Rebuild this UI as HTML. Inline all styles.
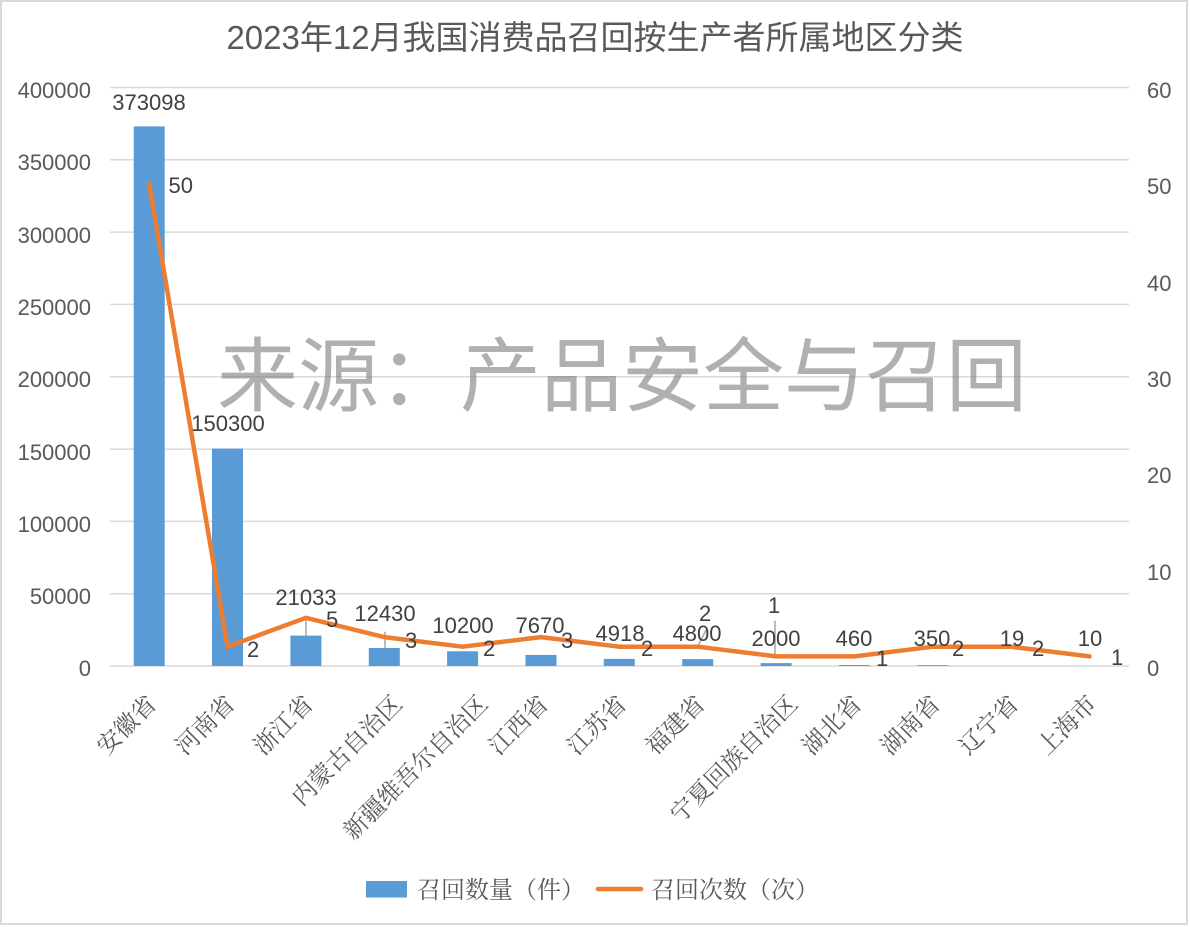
<!DOCTYPE html>
<html>
<head>
<meta charset="utf-8">
<style>
html,body{margin:0;padding:0;background:#fff;}
svg{display:block;}
.ax{font-family:"Liberation Sans","Noto Sans CJK SC",sans-serif;font-size:22px;fill:#595959;}
.dl{font-family:"Liberation Sans","Noto Sans CJK SC",sans-serif;font-size:22px;fill:#404040;}
.cat{font-family:"Liberation Serif","Noto Serif CJK SC",serif;font-size:24px;fill:#595959;}
.lg{font-family:"Liberation Serif","Noto Serif CJK SC",serif;font-size:24px;fill:#595959;}
</style>
</head>
<body>
<svg width="1190" height="927" viewBox="0 0 1190 927" xmlns="http://www.w3.org/2000/svg">
<rect x="0" y="0" width="1190" height="927" fill="#fff"/>
<rect x="1" y="1" width="1186" height="923" fill="none" stroke="#d9d9d9" stroke-width="2"/>

<!-- title -->
<text x="595" y="49" text-anchor="middle" style="font-family:'Liberation Sans','Noto Sans CJK SC',sans-serif;font-size:33px;fill:#595959;">2023年12月我国消费品召回按生产者所属地区分类</text>

<!-- gridlines -->
<g stroke="#d9d9d9" stroke-width="1.5">
<line x1="110" x2="1129" y1="87.5" y2="87.5"/>
<line x1="110" x2="1129" y1="159.8" y2="159.8"/>
<line x1="110" x2="1129" y1="232.1" y2="232.1"/>
<line x1="110" x2="1129" y1="304.4" y2="304.4"/>
<line x1="110" x2="1129" y1="376.75" y2="376.75"/>
<line x1="110" x2="1129" y1="449.1" y2="449.1"/>
<line x1="110" x2="1129" y1="521.4" y2="521.4"/>
<line x1="110" x2="1129" y1="593.7" y2="593.7"/>
<line x1="110" x2="1129" y1="666" y2="666"/>
</g>

<!-- left axis labels -->
<g class="ax" text-anchor="end">
<text x="91" y="98">400000</text>
<text x="91" y="170">350000</text>
<text x="91" y="243">300000</text>
<text x="91" y="315">250000</text>
<text x="91" y="387">200000</text>
<text x="91" y="460">150000</text>
<text x="91" y="532">100000</text>
<text x="91" y="604">50000</text>
<text x="91" y="676">0</text>
</g>
<!-- right axis labels -->
<g class="ax" text-anchor="start">
<text x="1147" y="98">60</text>
<text x="1147" y="194">50</text>
<text x="1147" y="291">40</text>
<text x="1147" y="387">30</text>
<text x="1147" y="483">20</text>
<text x="1147" y="580">10</text>
<text x="1147" y="676">0</text>
</g>

<!-- bars -->
<g fill="#5b9bd5">
<rect x="133.7" y="126.4" width="31" height="539.6"/>
<rect x="212.0" y="448.6" width="31" height="217.4"/>
<rect x="290.4" y="635.6" width="31" height="30.4"/>
<rect x="368.8" y="648.0" width="31" height="18.0"/>
<rect x="447.1" y="651.25" width="31" height="14.75"/>
<rect x="525.5" y="654.9" width="31" height="11.1"/>
<rect x="603.8" y="658.9" width="31" height="7.1"/>
<rect x="682.2" y="659.1" width="31" height="6.9"/>
<rect x="760.6" y="663.1" width="31" height="2.9"/>
<rect x="838.9" y="665.0" width="31" height="1.0"/>
<rect x="917.3" y="665.2" width="31" height="0.8"/>
</g>

<!-- leader lines -->
<g stroke="#a6a6a6" stroke-width="1.5" fill="none">
<line x1="306" y1="617" x2="306" y2="635.6"/>
<line x1="385" y1="631.7" x2="385" y2="648"/>
<line x1="698" y1="646" x2="706" y2="630"/>
<line x1="775" y1="620.7" x2="775" y2="657"/>
</g>

<!-- line series -->
<polyline fill="none" stroke="#ed7d31" stroke-width="4.5" stroke-linejoin="round" stroke-linecap="round"
points="149.18,183.9 227.54,646.7 305.9,617.8 384.26,637.1 462.62,646.7 540.98,637.1 619.34,646.7 697.7,646.7 776.06,656.4 854.42,656.4 932.78,646.7 1011.14,646.7 1089.5,656.4"/>

<!-- data labels bars -->
<g class="dl" text-anchor="middle">
<text x="149" y="110">373098</text>
<text x="228" y="431">150300</text>
<text x="306" y="605">21033</text>
<text x="385" y="621">12430</text>
<text x="463" y="633">10200</text>
<text x="540" y="633">7670</text>
<text x="620" y="641">4918</text>
<text x="697" y="641">4800</text>
<text x="776" y="646">2000</text>
<text x="854" y="646">460</text>
<text x="932" y="646">350</text>
<text x="1012" y="646">19</text>
<text x="1090" y="646">10</text>
</g>
<!-- data labels line -->
<g class="dl" text-anchor="start">
<text x="168.5" y="193">50</text>
<text x="247" y="657">2</text>
<text x="326" y="627">5</text>
<text x="405" y="648">3</text>
<text x="483" y="656">2</text>
<text x="561" y="648">3</text>
<text x="641" y="656">2</text>
<text x="699" y="621">2</text>
<text x="768" y="613">1</text>
<text x="876" y="666">1</text>
<text x="952" y="656">2</text>
<text x="1032" y="656">2</text>
<text x="1111" y="665">1</text>
</g>

<!-- watermark -->
<text x="217" y="405" style="font-family:'Noto Sans CJK SC','WenQuanYi Zen Hei',sans-serif;font-size:81px;fill:#7f7f7f;fill-opacity:0.62;">来源：产品安全与召回</text>

<!-- category labels -->
<g class="cat" text-anchor="end">
<g transform="translate(151.4,699) rotate(-45)"><text x="0" y="9">安徽省</text></g>
<g transform="translate(229.7,699) rotate(-45)"><text x="0" y="9">河南省</text></g>
<g transform="translate(308.1,699) rotate(-45)"><text x="0" y="9">浙江省</text></g>
<g transform="translate(397.3,699) rotate(-45)"><text x="0" y="9">内蒙古自治区</text></g>
<g transform="translate(482.8,699) rotate(-45)"><text x="0" y="9">新疆维吾尔自治区</text></g>
<g transform="translate(543.2,699) rotate(-45)"><text x="0" y="9">江西省</text></g>
<g transform="translate(621.5,699) rotate(-45)"><text x="0" y="9">江苏省</text></g>
<g transform="translate(699.9,699) rotate(-45)"><text x="0" y="9">福建省</text></g>
<g transform="translate(792.7,699) rotate(-45)"><text x="0" y="9">宁夏回族自治区</text></g>
<g transform="translate(856.6,699) rotate(-45)"><text x="0" y="9">湖北省</text></g>
<g transform="translate(935,699) rotate(-45)"><text x="0" y="9">湖南省</text></g>
<g transform="translate(1013.3,699) rotate(-45)"><text x="0" y="9">辽宁省</text></g>
<g transform="translate(1091.7,699) rotate(-45)"><text x="0" y="9">上海市</text></g>
</g>

<!-- legend -->
<rect x="366" y="881" width="41" height="16.5" fill="#5b9bd5"/>
<text class="lg" x="417" y="898">召回数量（件）</text>
<line x1="598" y1="889" x2="641" y2="889" stroke="#ed7d31" stroke-width="4.5" stroke-linecap="round"/>
<text class="lg" x="651" y="898">召回次数（次）</text>
</svg>
</body>
</html>
